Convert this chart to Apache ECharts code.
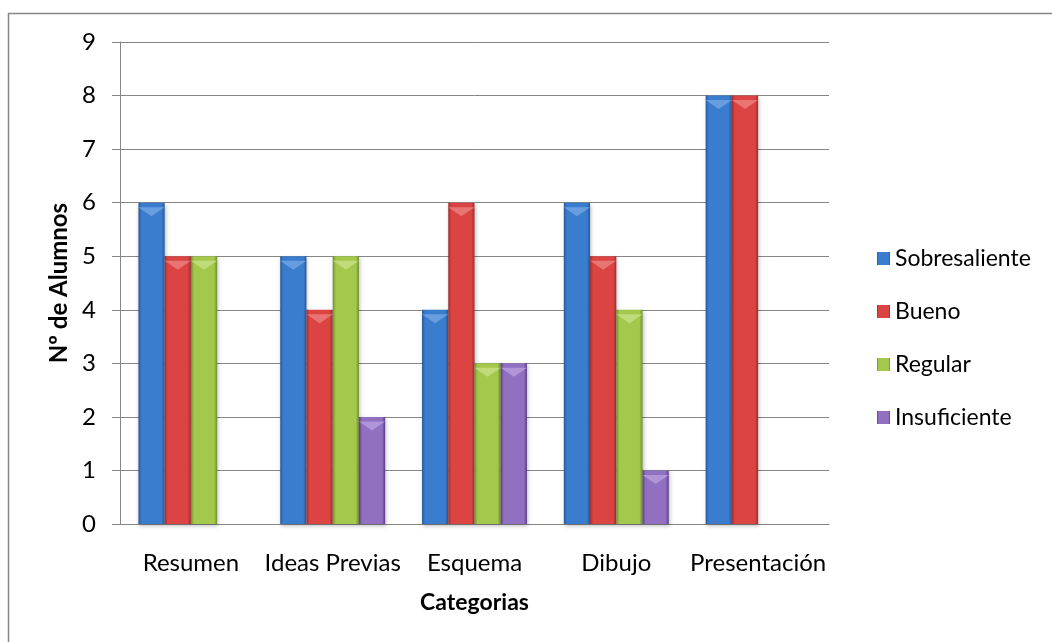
<!DOCTYPE html>
<html>
<head>
<meta charset="utf-8">
<script src="https://cdn.jsdelivr.net/npm/echarts@6/dist/echarts.min.js"></script>
<style>
  html, body { margin: 0; padding: 0; background: #ffffff; }
  #chart { width: 1052px; height: 642px; }
</style>
</head>
<body>
<div id="chart"></div>
<script>
// Categories along the x axis
const categories = ['Resumen', 'Ideas Previas', 'Esquema', 'Dibujo', 'Presentación'];

// Number of students per grade, one array per grade
const sobresaliente = [6, 5, 4, 6, 8];
const bueno         = [5, 4, 6, 5, 8];
const regular       = [5, 5, 3, 4, null];
const insuficiente  = [null, 2, 3, 1, null];

const seriesNames = ['Sobresaliente', 'Bueno', 'Regular', 'Insuficiente'];
const seriesData = [sobresaliente, bueno, regular, insuficiente];

// Y axis ticks
const yTicks = [0, 1, 2, 3, 4, 5, 6, 7, 8, 9];

// Bevelled fills: dark edges, bright centre, light cap
const palette = [
  { edge: '#27589a', mid: '#3a7dcf', cap: '#78a9e6' },
  { edge: '#9e2e2b', mid: '#dc4444', cap: '#ec8582' },
  { edge: '#6f8f2d', mid: '#a4c84c', cap: '#cae38a' },
  { edge: '#5a3d85', mid: '#9170c2', cap: '#bca2e0' }
];

const FONT = 'Lato';
const FS = 24;

function sideGradient(p) {
  return new echarts.graphic.LinearGradient(0, 0, 1, 0, [
    { offset: 0, color: p.edge },
    { offset: 0.12, color: p.mid },
    { offset: 0.88, color: p.mid },
    { offset: 1, color: p.edge }
  ]);
}

const barGap = '0%';
const barCategoryGap = '26%';

const series = [];
seriesNames.forEach((name, i) => {
  series.push({
    name: name,
    type: 'bar',
    data: seriesData[i],
    barGap: barGap,
    barCategoryGap: barCategoryGap,
    itemStyle: {
      color: sideGradient(palette[i]),
      shadowColor: 'rgba(0,0,0,0.25)',
      shadowBlur: 4,
      shadowOffsetX: 1,
      shadowOffsetY: 2
    },
    emphasis: { disabled: true }
  });
});
// Light triangular caps on top of every bar
seriesNames.forEach((name, i) => {
  series.push({
    name: name,
    type: 'pictorialBar',
    data: seriesData[i],
    barGap: barGap,
    barCategoryGap: barCategoryGap,
    symbol: 'path://M0,0 L10,0 L5,7 Z',
    symbolSize: ['100%', 9],
    symbolPosition: 'end',
    symbolOffset: [0, '50%'],
    itemStyle: { color: palette[i].cap, opacity: 0.75 },
    z: 3,
    emphasis: { disabled: true }
  });
});

const chart = echarts.init(document.getElementById('chart'), null, { renderer: 'canvas' });
chart.setOption({
  animation: false,
  backgroundColor: '#ffffff',
  color: palette.map(p => p.mid),
  graphic: [{
    type: 'rect',
    shape: { x: 8.5, y: 13.5, width: 1100, height: 700 },
    style: { fill: 'none', stroke: '#868686', lineWidth: 1.5 },
    silent: true
  }],
  grid: { left: 120, right: 223, top: 42, bottom: 118, containLabel: false },
  legend: {
    orient: 'vertical',
    left: 872,
    top: 242,
    itemWidth: 13,
    itemHeight: 13,
    itemGap: 30,
    icon: 'rect',
    data: seriesNames,
    textStyle: { fontFamily: FONT, fontSize: FS - 1, color: '#000' }
  },
  xAxis: {
    type: 'category',
    data: categories,
    name: 'Categorias',
    nameLocation: 'middle',
    nameGap: 67,
    nameTextStyle: { fontFamily: FONT, fontSize: FS - 1, fontWeight: 'bold', color: '#000' },
    axisLine: { lineStyle: { color: '#868686', width: 1 } },
    axisTick: { show: false },
    axisLabel: { fontFamily: FONT, fontSize: FS, color: '#000', margin: 27, interval: 0 }
  },
  yAxis: {
    type: 'value',
    min: yTicks[0],
    max: yTicks[yTicks.length - 1],
    interval: 1,
    name: 'Nº de Alumnos',
    nameLocation: 'middle',
    nameGap: 48,
    nameRotate: 90,
    nameTextStyle: { fontFamily: FONT, fontSize: FS, fontWeight: 'bold', color: '#000' },
    axisLine: { show: true, lineStyle: { color: '#868686', width: 1 } },
    axisTick: { show: true, length: 8, lineStyle: { color: '#868686' } },
    axisLabel: { fontFamily: FONT, fontSize: FS, color: '#000', margin: 24 },
    splitLine: { lineStyle: { color: '#868686', width: 1 } }
  },
  series: series
});
</script>
</body>
</html>
